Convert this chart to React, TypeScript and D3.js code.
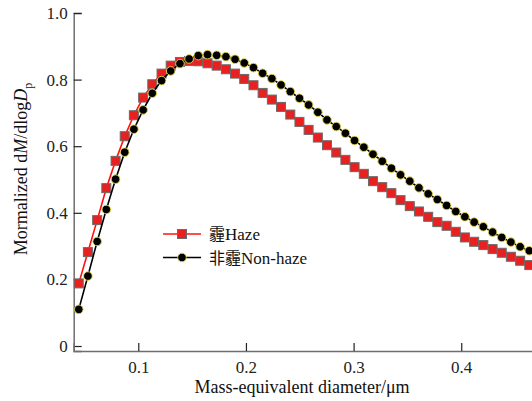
import React, { useEffect, useRef } from 'react'
import * as d3 from 'd3'

// mass-equivalent diameter (um), shared by both series
const diameters = [
  0.0447, 0.0532, 0.0618, 0.0703, 0.0789, 0.0874, 0.0959, 0.1045, 0.113, 0.1216,
  0.1301, 0.1387, 0.1472, 0.1557, 0.1643, 0.1728, 0.1814, 0.1899, 0.1984, 0.207,
  0.2155, 0.2241, 0.2326, 0.2412, 0.2497, 0.2582, 0.2668, 0.2753, 0.2839, 0.2924,
  0.3009, 0.3095, 0.318, 0.3266, 0.3351, 0.3436, 0.3522, 0.3607, 0.3693, 0.3778,
  0.3864, 0.3949, 0.4034, 0.412, 0.4205, 0.4291, 0.4376, 0.4461, 0.4547, 0.4632,
]

const hazeValues = [
  0.188, 0.282, 0.378, 0.474, 0.556, 0.63, 0.693, 0.746, 0.786, 0.818,
  0.842, 0.853, 0.856, 0.855, 0.849, 0.842, 0.831, 0.818, 0.802, 0.783,
  0.76, 0.74, 0.718, 0.695, 0.673, 0.649, 0.626, 0.603, 0.581, 0.559,
  0.537, 0.517, 0.495, 0.477, 0.459, 0.438, 0.42, 0.404, 0.388, 0.372,
  0.361, 0.343, 0.326, 0.313, 0.303, 0.291, 0.28, 0.268, 0.256, 0.243,
]

const nonHazeValues = [
  0.11, 0.21, 0.314, 0.41, 0.501, 0.582, 0.651, 0.709, 0.759, 0.797,
  0.826, 0.848, 0.862, 0.872, 0.875, 0.873, 0.869, 0.861, 0.85, 0.836,
  0.819, 0.803, 0.784, 0.764, 0.744, 0.724, 0.702, 0.679, 0.659, 0.639,
  0.617, 0.597, 0.576, 0.555, 0.534, 0.514, 0.495, 0.475, 0.457, 0.44,
  0.422, 0.404, 0.388, 0.372, 0.358, 0.342, 0.326, 0.312, 0.298, 0.286,
]

const xTicks = [0.1, 0.2, 0.3, 0.4]
const yTicks = [0, 0.2, 0.4, 0.6, 0.8, 1.0]
// legend: chinese part + english part
const legendLabels = [
  ['霾', 'Haze'],
  ['非霾', 'Non-haze'],
]

const serif = '"Liberation Serif", "Times New Roman", Times, "DejaVu Serif", serif'
const cjk = '"Noto Sans CJK SC", sans-serif'

const App = () => {
  const svgRef = useRef<SVGSVGElement>(null)

  useEffect(() => {
    const width = 532
    const height = 401
    const svg = d3
      .select(svgRef.current)
      .attr('width', width)
      .attr('height', height)
      .attr('font-family', serif)
    svg.selectAll('*').remove()

    const x = d3.scaleLinear().domain([0.04, 0.47]).range([73.7, 536.6])
    const y = d3.scaleLinear().domain([-0.015, 1.0]).range([351, 13])

    const axisColor = '#6e6e6e'

    // y axis (inner ticks)
    const yAxis = svg
      .append('g')
      .attr('transform', `translate(${x(0.04)},0)`)
      .call(
        d3
          .axisRight(y)
          .tickValues(yTicks)
          .tickSize(8)
          .tickFormat((d) => (d === 0 ? '0' : d3.format('.1f')(d as number)))
      )
      .attr('font-family', serif)
      .attr('font-size', 17)
    yAxis.select('.domain').attr('stroke', axisColor).attr('stroke-width', 1.5)
    yAxis.selectAll('.tick line').attr('stroke', '#222').attr('stroke-width', 1.2)
    yAxis
      .selectAll('.tick text')
      .attr('x', -6)
      .attr('text-anchor', 'end')
      .attr('fill', '#222')

    // x axis (inner ticks)
    const xAxis = svg
      .append('g')
      .attr('transform', `translate(0,${y(-0.015)})`)
      .call(d3.axisTop(x).tickValues(xTicks).tickSize(8).tickFormat(d3.format('.1f')))
      .attr('font-family', serif)
      .attr('font-size', 17)
    xAxis.select('.domain').attr('stroke', axisColor).attr('stroke-width', 1.5)
    xAxis.selectAll('.tick line').attr('stroke', '#222').attr('stroke-width', 1.2)
    xAxis
      .selectAll('.tick text')
      .attr('y', 22)
      .attr('dy', 0)
      .attr('fill', '#222')

    const line = d3
      .line<number>()
      .x((d, i) => x(diameters[i]))
      .y((d) => y(d))

    // haze series
    svg
      .append('path')
      .datum(hazeValues)
      .attr('d', line)
      .attr('fill', 'none')
      .attr('stroke', '#ff1010')
      .attr('stroke-width', 1.6)

    svg
      .selectAll('.haze')
      .data(hazeValues)
      .enter()
      .append('rect')
      .attr('class', 'haze')
      .attr('x', (d, i) => x(diameters[i]) - 4.5)
      .attr('y', (d) => y(d) - 4.5)
      .attr('width', 9)
      .attr('height', 9)
      .attr('fill', '#e82020')
      .attr('stroke', '#6a6a6a')
      .attr('stroke-width', 1)

    // non-haze series
    svg
      .append('path')
      .datum(nonHazeValues)
      .attr('d', line)
      .attr('fill', 'none')
      .attr('stroke', '#000')
      .attr('stroke-width', 1.6)

    svg
      .selectAll('.nonhaze')
      .data(nonHazeValues)
      .enter()
      .append('circle')
      .attr('class', 'nonhaze')
      .attr('cx', (d, i) => x(diameters[i]))
      .attr('cy', (d) => y(d))
      .attr('r', 4.3)
      .attr('fill', '#000')
      .attr('stroke', '#e8d84a')
      .attr('stroke-width', 0.9)

    // legend
    const legend = svg
      .selectAll('.legend')
      .data(legendLabels)
      .enter()
      .append('g')
      .attr('class', 'legend')
      .attr('transform', (d, i) => `translate(163,${234 + i * 23.5})`)

    legend
      .append('line')
      .attr('x1', 0)
      .attr('x2', 38)
      .attr('stroke', (d, i) => (i === 0 ? '#ff1010' : '#000'))
      .attr('stroke-width', 1.6)

    legend
      .filter((d, i) => i === 0)
      .append('rect')
      .attr('x', 14.5)
      .attr('y', -4.5)
      .attr('width', 9)
      .attr('height', 9)
      .attr('fill', '#e82020')
      .attr('stroke', '#6a6a6a')

    legend
      .filter((d, i) => i === 1)
      .append('circle')
      .attr('cx', 19)
      .attr('r', 4.3)
      .attr('fill', '#000')
      .attr('stroke', '#e8d84a')
      .attr('stroke-width', 0.9)

    const legendText = legend
      .append('text')
      .attr('x', 46)
      .attr('y', 6)
      .attr('fill', '#111')
      .attr('font-size', 17)
    legendText
      .append('tspan')
      .text((d) => d[0])
      .attr('font-family', cjk)
      .attr('font-size', 16)
    legendText.append('tspan').text((d) => d[1])

    // x axis label
    svg
      .append('text')
      .text('Mass-equivalent diameter/μm')
      .attr('text-anchor', 'middle')
      .attr('x', 302)
      .attr('y', 393)
      .attr('fill', '#111')
      .attr('font-size', 18)

    // y axis label
    const yLabel = svg
      .append('text')
      .attr('transform', 'rotate(-90)')
      .attr('text-anchor', 'middle')
      .attr('x', -169)
      .attr('y', 27)
      .attr('fill', '#111')
      .attr('font-size', 18)
    yLabel.append('tspan').text('Mormalized d')
    yLabel.append('tspan').text('M').attr('font-style', 'italic')
    yLabel.append('tspan').text('/dlog')
    yLabel.append('tspan').text('D').attr('font-style', 'italic')
    yLabel.append('tspan').text('p').attr('dy', 5).attr('font-size', 12)
  }, [])

  return <svg ref={svgRef} style={{ position: 'absolute', left: 0, top: 0 }}></svg>
}

export default App
